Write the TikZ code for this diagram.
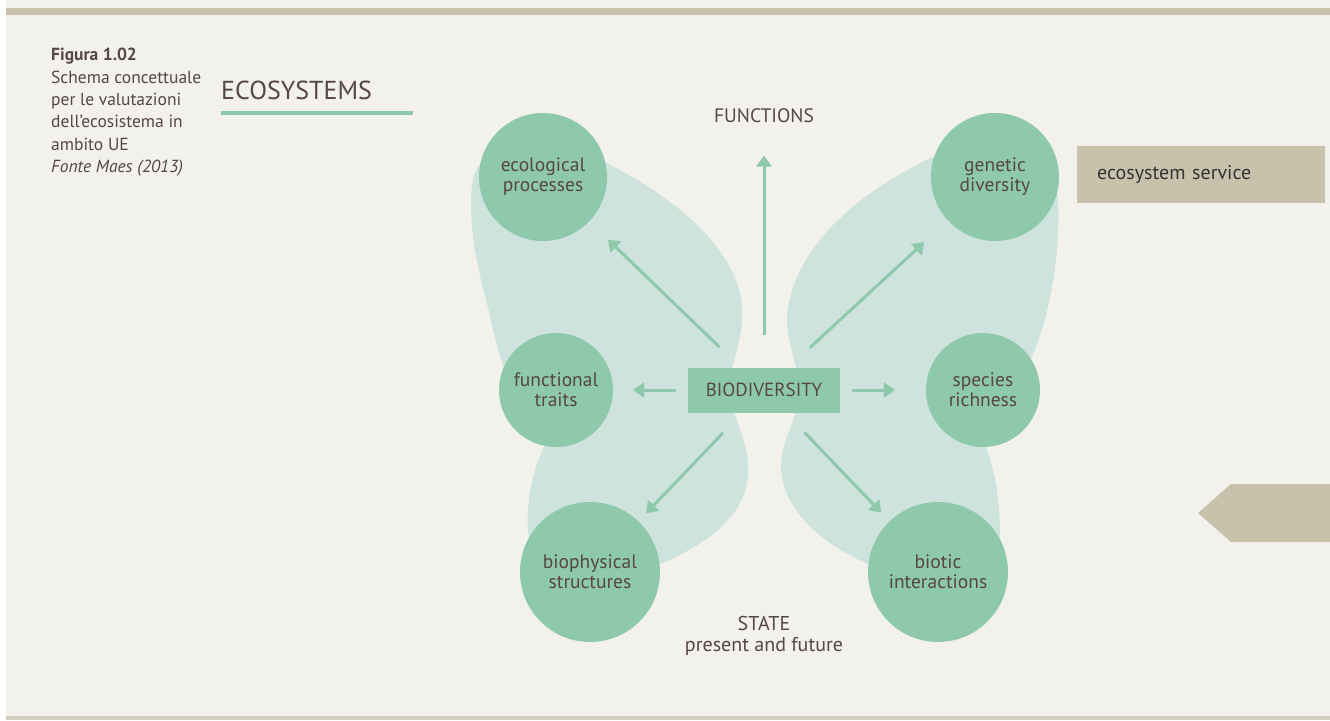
\documentclass[tikz,border=0pt]{standalone}
\usepackage{fontspec}
\setmainfont{PT Sans}
\definecolor{bgcream}{RGB}{242,241,236}
\definecolor{barbeige}{RGB}{200,193,172}
\definecolor{leafgreen}{RGB}{142,201,171}
\definecolor{wingmint}{RGB}{206,227,222}
\definecolor{inkbrown}{RGB}{86,70,68}
\usetikzlibrary{shapes,arrows.meta,positioning,calc}

\begin{document}
\begin{tikzpicture}[x=1pt, y=-1pt,
    bubble/.style={circle, fill=leafgreen, text=inkbrown, align=center, inner sep=0pt,
        font=\fontsize{19.5}{20}\selectfont},
    biobox/.style={rectangle, fill=leafgreen, text=inkbrown, minimum width=152pt,
        minimum height=45pt, font=\fontsize{19}{20}\selectfont},
    tag/.style={text=inkbrown, align=center, font=\fontsize{20}{21}\selectfont},
    arr/.style={line width=3pt, leafgreen, -{Triangle[width=15pt,length=11pt]}}]
    \useasboundingbox (0,0) rectangle (1330,720);

    % Page
    \fill[bgcream] (0,0) rectangle (1330,720);
    \fill[white] (0,0) rectangle (6,720);
    \fill[barbeige] (6,8) rectangle (1330,15);
    \fill[barbeige!80] (6,716) rectangle (1330,720);

    % Left wing
    \fill[wingmint] (540,135) .. controls (680,185) and (748,260) .. (742,320)
        .. controls (740,350) and (728,370) .. (730,392)
        .. controls (732,420) and (750,440) .. (748,475)
        .. controls (745,520) and (700,550) .. (640,572)
        .. controls (580,600) and (530,570) .. (528,530)
        .. controls (526,495) and (535,465) .. (545,445)
        .. controls (520,410) and (500,370) .. (490,315)
        .. controls (478,270) and (468,230) .. (472,185)
        .. controls (474,160) and (500,140) .. (540,135) -- cycle;
    % Right wing
    \fill[wingmint] (990,135) .. controls (880,170) and (790,240) .. (787,320)
        .. controls (788,350) and (800,370) .. (800,392)
        .. controls (798,420) and (780,440) .. (781,470)
        .. controls (785,515) and (828,548) .. (875,567)
        .. controls (930,600) and (1000,580) .. (1000,535)
        .. controls (1000,500) and (995,470) .. (985,445)
        .. controls (1000,410) and (1030,370) .. (1040,335)
        .. controls (1052,300) and (1060,250) .. (1058,200)
        .. controls (1057,170) and (1030,140) .. (990,135) -- cycle;

    % Caption
    \node[anchor=north west, align=left, inner sep=0pt, text=inkbrown,
        font=\fontsize{17.5}{22.4}\selectfont] (figcap) at (51,48)
        {\textbf{Figura 1.02}\\Schema concettuale\\per le valutazioni\\dell’ecosistema in\\ambito UE\\\textit{Fonte Maes (2013)}};

    % Title
    \node[anchor=base west, inner sep=0pt, text=inkbrown,
        font=\fontsize{26}{28}\selectfont] (title) at (221,99) {ECOSYSTEMS};
    \draw[leafgreen, line width=4pt] (221,113) -- (413,113);

    % Circles
    \node[bubble, minimum size=128pt] (eco) at (543,177) {ecological\\processes};
    \node[bubble, minimum size=128pt] (gen) at (995,177) {genetic\\diversity};
    \node[bubble, minimum size=114pt] (trait) at (556,390) {functional\\traits};
    \node[bubble, minimum size=114pt] (rich) at (983,390) {species\\richness};
    \node[bubble, minimum size=140pt] (struct) at (590,572) {biophysical\\structures};
    \node[bubble, minimum size=140pt] (inter) at (938,572) {biotic\\interactions};

    % Centre and labels
    \node[biobox] (bio) at (764,390) {BIODIVERSITY};
    \node[tag, font=\fontsize{19.5}{21}\selectfont] (func) at (764,116) {FUNCTIONS};
    \node[tag] (state) at (764,636) {STATE\\present and future};

    % Arrows
    \draw[arr, shorten <=32pt, shorten >=29pt] (bio) -- (func);
    \draw[arr, shorten <=29pt, shorten >=26pt] (bio) -- (eco);
    \draw[arr, shorten <=29pt, shorten >=32pt] (bio) -- (gen);
    \draw[arr, shorten <=12pt, shorten >=20pt] (bio) -- (trait);
    \draw[arr, shorten <=12pt, shorten >=31pt] (bio) -- (rich);
    \draw[arr, shorten <=28pt, shorten >=11pt] (bio) -- (struct);
    \draw[arr, shorten <=27pt, shorten >=12pt] (bio) -- (inter);

    % Side tabs
    \node[fill=barbeige, anchor=north west, minimum width=248pt, minimum height=57pt,
        inner xsep=20pt, text width=208pt, align=left, text=black!80,
        font=\fontsize{20}{21}\selectfont] (service) at (1077,146) {ecosystem service};
    \fill[barbeige] (1198,513) -- (1231,484) -- (1330,484) -- (1330,542) -- (1231,542) -- cycle;
\end{tikzpicture}
\end{document}
